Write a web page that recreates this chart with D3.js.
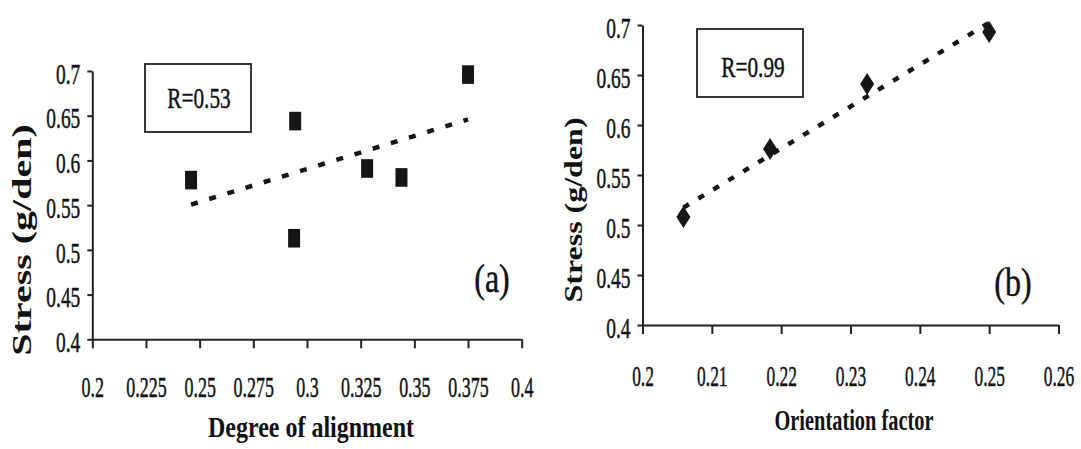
<!DOCTYPE html>
<html>
<head>
<meta charset="utf-8">
<script src="https://cdn.jsdelivr.net/npm/d3@7"></script>
<style>
  html, body { margin: 0; padding: 0; background: #fff; }
  svg { display: block; }
</style>
</head>
<body>
<svg id="chart" width="1081" height="449"></svg>
<script>
// Panel (a): stress versus degree of alignment
const alignX = [0.246, 0.2945, 0.294, 0.328, 0.344, 0.375];
const alignStress = [0.578, 0.644, 0.513, 0.591, 0.581, 0.696];
const alignTicks = [0.2, 0.225, 0.25, 0.275, 0.3, 0.325, 0.35, 0.375, 0.4];
const alignTickLabels = ["0.2", "0.225", "0.25", "0.275", "0.3", "0.325", "0.35", "0.375", "0.4"];

// Panel (b): stress versus orientation factor
const orientX = [0.2059, 0.2184, 0.2324, 0.25];
const orientStress = [0.508, 0.576, 0.641, 0.693];
const orientTicks = [0.2, 0.21, 0.22, 0.23, 0.24, 0.25, 0.26];
const orientTickLabels = ["0.2", "0.21", "0.22", "0.23", "0.24", "0.25", "0.26"];

// Shared stress axis
const stressTicks = [0.4, 0.45, 0.5, 0.55, 0.6, 0.65, 0.7];
const stressTickLabels = ["0.4", "0.45", "0.5", "0.55", "0.6", "0.65", "0.7"];

const rLabels = ["R=0.53", "R=0.99"];
const panelLabels = ["(a)", "(b)"];
const xTitles = ["Degree of alignment", "Orientation factor"];
const yTitle = "Stress (g/den)";

const FONT = '"Liberation Serif", "Times New Roman", serif';
const svg = d3.select("#chart");
const INK = "#151515";

// least-squares fit of y on x
function fit(xs, ys) {
  const mx = d3.mean(xs), my = d3.mean(ys);
  let sxy = 0, sxx = 0;
  xs.forEach((x, i) => { sxy += (x - mx) * (ys[i] - my); sxx += (x - mx) * (x - mx); });
  const b = sxy / sxx;
  return x => my + b * (x - mx);
}

// slightly heavier regular-weight type
function ink(sel) {
  return sel.style("fill", "#111").style("stroke", "#111").style("stroke-width", "0.45px");
}

function condensedText(g, str, x, y, size, sx, opts = {}) {
  const t = g.append("text")
    .attr("transform", `translate(${x},${y}) scale(${sx},1)`)
    .attr("text-anchor", opts.anchor || "middle")
    .style("font-family", FONT)
    .style("font-size", size + "px")
    .style("font-weight", opts.weight || "normal")
    .style("fill", "#111")
    .text(str);
  if (!opts.weight) ink(t);
  return t;
}

const panels = [
  {
    xs: alignX, ys: alignStress, xTicks: alignTicks, xTickLabels: alignTickLabels,
    xRange: [92.3, 521.7], xDomain: [0.2, 0.4], yRange: [339.3, 71],
    marker: "square", dash: "7,12",
    box: { x: 145, y: 64, w: 106, h: 68, tx: 199, ty: 108 },
    tag: { x: 492, y: 292 },
    xTitle: { x: 311, y: 437, sx: 0.8 },
    yTitle: { x: 22, y: 240, size: 40, sx: 0.66 },
    xLabelY: 58, xLabelSx: 0.62, yLabelSx: 0.67
  },
  {
    xs: orientX, ys: orientStress, xTicks: orientTicks, xTickLabels: orientTickLabels,
    xRange: [642.5, 1058.5], xDomain: [0.2, 0.26], yRange: [325, 25],
    marker: "diamond", dash: "6.5,11",
    box: { x: 697, y: 29, w: 106, h: 68, tx: 753, ty: 77 },
    tag: { x: 1013, y: 296 },
    xTitle: { x: 854, y: 430, sx: 0.68 },
    yTitle: { x: 573, y: 210, size: 32, sx: 0.82 },
    xLabelY: 61, xLabelSx: 0.6, yLabelSx: 0.67
  }
];

panels.forEach((p, k) => {
  const g = svg.append("g");
  const x = d3.scaleLinear().domain(p.xDomain).range(p.xRange);
  const y = d3.scaleLinear().domain([0.4, 0.7]).range(p.yRange);
  const x0 = p.xRange[0], y0 = p.yRange[0];

  // y axis
  const ya = g.append("g").attr("transform", `translate(${x0},0)`)
    .call(d3.axisLeft(y).tickValues(stressTicks)
      .tickFormat((d, i) => stressTickLabels[i]).tickSize(5).tickSizeOuter(0).tickPadding(7));
  ink(ya.selectAll("text")
    .style("font-family", FONT).style("font-size", "29px")
    .attr("x", -12 / p.yLabelSx).attr("dy", "0.42em")
    .attr("transform", `scale(${p.yLabelSx},1)`));

  // x axis
  const xa = g.append("g").attr("transform", `translate(0,${y0})`)
    .call(d3.axisBottom(x).tickValues(p.xTicks)
      .tickFormat((d, i) => p.xTickLabels[i]).tickSize(9).tickSizeOuter(0));
  ink(xa.selectAll("text")
    .style("font-family", FONT).style("font-size", "29px")
    .attr("x", 0).attr("y", p.xLabelY).attr("dy", 0)
    .attr("transform", `scale(${p.xLabelSx},1)`));

  [ya, xa].forEach(a => {
    a.selectAll("path, line").attr("stroke", "#222").attr("stroke-width", 2);
  });

  // trend line across the sampled range
  const f = fit(p.xs, p.ys);
  const ext = d3.extent(p.xs);
  g.append("path")
    .attr("d", d3.line()([[x(ext[0]), y(f(ext[0]))], [x(ext[1]), y(f(ext[1]))]]))
    .attr("stroke", INK).attr("stroke-width", 4.5)
    .attr("stroke-dasharray", p.dash).attr("fill", "none");

  // markers
  const pts = p.xs.map((v, i) => [x(v), y(p.ys[i])]);
  if (p.marker === "square") {
    g.selectAll("rect.pt").data(pts).join("rect").attr("class", "pt")
      .attr("x", d => d[0] - 6).attr("y", d => d[1] - 9.3)
      .attr("width", 12).attr("height", 18.6).attr("fill", INK);
  } else {
    g.selectAll("path.pt").data(pts).join("path").attr("class", "pt")
      .attr("d", d => `M${d[0]},${d[1] - 11}L${d[0] + 7},${d[1]}L${d[0]},${d[1] + 11}L${d[0] - 7},${d[1]}Z`)
      .attr("fill", INK);
  }

  // correlation box
  g.append("rect")
    .attr("x", p.box.x).attr("y", p.box.y).attr("width", p.box.w).attr("height", p.box.h)
    .attr("fill", "#fff").attr("stroke", "#222").attr("stroke-width", 1.8);
  condensedText(g, rLabels[k], p.box.tx, p.box.ty, 30, 0.71);

  // panel tag
  condensedText(g, panelLabels[k], p.tag.x, p.tag.y, 40, 0.8);

  // axis titles
  condensedText(g, xTitles[k], p.xTitle.x, p.xTitle.y, 30, p.xTitle.sx, { weight: "bold" });
  g.append("text")
    .attr("transform", `translate(${p.yTitle.x},${p.yTitle.y}) scale(${p.yTitle.sx},1) rotate(-90)`)
    .attr("text-anchor", "middle").attr("dy", "0.35em")
    .style("font-family", FONT)
    .style("font-size", p.yTitle.size + "px").style("font-weight", "bold").style("fill", "#111")
    .text(yTitle);
});
</script>
</body>
</html>
